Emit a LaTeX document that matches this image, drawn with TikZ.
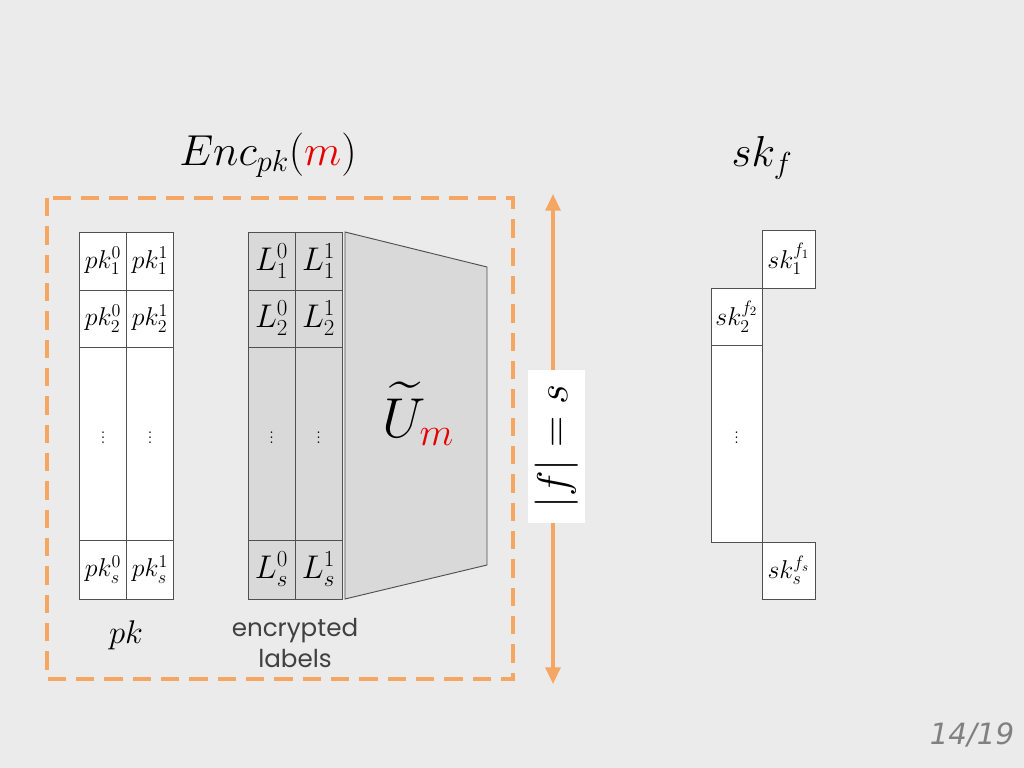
\RequirePackage{fix-cm}
\documentclass[tikz,border=0pt]{standalone}
\usepackage{fontspec}
\usetikzlibrary{arrows.meta}
\usepackage{xcolor}
\DeclareFontShape{OMX}{cmex}{m}{n}{<->cmex10}{}
\newfontfamily\labelfont{Poppins}
\newfontfamily\pagefont{DejaVu Sans}
\definecolor{slidebg}{RGB}{235,235,235}
\definecolor{boxorange}{RGB}{244,166,98}
\definecolor{labelgray}{RGB}{217,217,217}
\definecolor{edgegray}{RGB}{80,80,80}
\definecolor{textgray}{RGB}{64,64,64}
\definecolor{msgred}{RGB}{230,0,0}

\begin{document}
\begin{tikzpicture}[
    x=0.03cm, y=-0.03cm,
    cell/.style={draw=edgegray, line width=0.8pt, inner sep=0pt, minimum width=1.41cm},
    pkcell/.style={cell, fill=white, font=\fontsize{22}{26}\selectfont},
    lcell/.style={cell, fill=labelgray, font=\fontsize{28}{32}\selectfont},
    skcell/.style={cell, fill=white, font=\fontsize{22}{26}\selectfont},
    dotcell/.style={font=\fontsize{17}{20}\selectfont, text depth=0.55cm},
    rowone/.style={minimum height=1.74cm},
    rowtwo/.style={minimum height=1.71cm},
    rowmid/.style={minimum height=5.79cm},
    rowlast/.style={minimum height=1.77cm},
    sizearrow/.style={{Triangle[length=0.5cm,width=0.45cm]}-{Triangle[length=0.5cm,width=0.45cm]}, line width=2.6pt, boxorange}
]
    \useasboundingbox (0,0) rectangle (1024,768);
    \fill[slidebg] (0,0) rectangle (1024,768);

    % titles
    \node[font=\fontsize{37}{42}\selectfont] (enc) at (268,155) {$Enc_{pk}(\textcolor{msgred}{m})$};
    \node[font=\fontsize{37}{42}\selectfont] (skf) at (762,158) {$sk_f$};

    % ciphertext frame
    \draw[boxorange, line width=3pt, dash pattern=on 0.55cm off 0.3cm] (47,198) rectangle (513,679);

    % public key table
    \node[pkcell, rowone] (pk10) at (103,261) {$pk_1^0$};
    \node[pkcell, rowone] (pk11) at (150,261) {$pk_1^1$};
    \node[pkcell, rowtwo] (pk20) at (103,318.5) {$pk_2^0$};
    \node[pkcell, rowtwo] (pk21) at (150,318.5) {$pk_2^1$};
    \node[pkcell, rowmid, dotcell] (pkd0) at (103,443.5) {$\vdots$};
    \node[pkcell, rowmid, dotcell] (pkd1) at (150,443.5) {$\vdots$};
    \node[pkcell, rowlast] (pks0) at (103,569.5) {$pk_s^0$};
    \node[pkcell, rowlast] (pks1) at (150,569.5) {$pk_s^1$};
    \node[font=\fontsize{28}{32}\selectfont] (pk) at (126,635) {$pk$};

    % label table
    \node[lcell, rowone] (l10) at (271.5,261) {$L_1^0$};
    \node[lcell, rowone] (l11) at (318.5,261) {$L_1^1$};
    \node[lcell, rowtwo] (l20) at (271.5,318.5) {$L_2^0$};
    \node[lcell, rowtwo] (l21) at (318.5,318.5) {$L_2^1$};
    \node[lcell, rowmid, dotcell] (ld0) at (271.5,443.5) {$\vdots$};
    \node[lcell, rowmid, dotcell] (ld1) at (318.5,443.5) {$\vdots$};
    \node[lcell, rowlast] (ls0) at (271.5,569.5) {$L_s^0$};
    \node[lcell, rowlast] (ls1) at (318.5,569.5) {$L_s^1$};
    \node[font=\labelfont\fontsize{21}{26}\selectfont, text=textgray, align=center] (enclab) at (295,643) {encrypted\\labels};

    % garbled circuit
    \draw[fill=labelgray, draw=edgegray, line width=0.8pt] (345,232) -- (487,267) -- (487,565) -- (345,599) -- cycle;
    \node[font=\fontsize{48}{54}\selectfont] (um) at (418,414) {$\widetilde{U}_{\textcolor{msgred}{m}}$};

    % size arrow
    \coordinate (arrtop) at (553,194);
    \coordinate (arrbot) at (553,684);
    \draw[sizearrow] (arrtop) -- (arrbot);
    \node[fill=white, rotate=90, minimum width=4.59cm, minimum height=1.71cm, inner sep=0pt,
        font=\fontsize{37}{42}\selectfont] (size) at (556.5,446.5) {$|f|=s$};

    % secret key column
    \node[skcell, rowone, minimum width=1.59cm] (sk1) at (788.5,259) {$sk_1^{f_1}$};
    \node[skcell, rowtwo, minimum width=1.53cm] (sk2) at (736.5,316.5) {$sk_2^{f_2}$};
    \node[skcell, dotcell, minimum height=5.91cm, minimum width=1.53cm] (skd) at (736.5,443.5) {$\vdots$};
    \node[skcell, rowtwo, minimum width=1.59cm] (sks) at (788.5,570.5) {$sk_s^{f_s}$};

    % page number
    \node[font=\pagefont\itshape\fontsize{25}{30}\selectfont, text=gray] (page) at (972,735) {14/19};
\end{tikzpicture}
\end{document}
